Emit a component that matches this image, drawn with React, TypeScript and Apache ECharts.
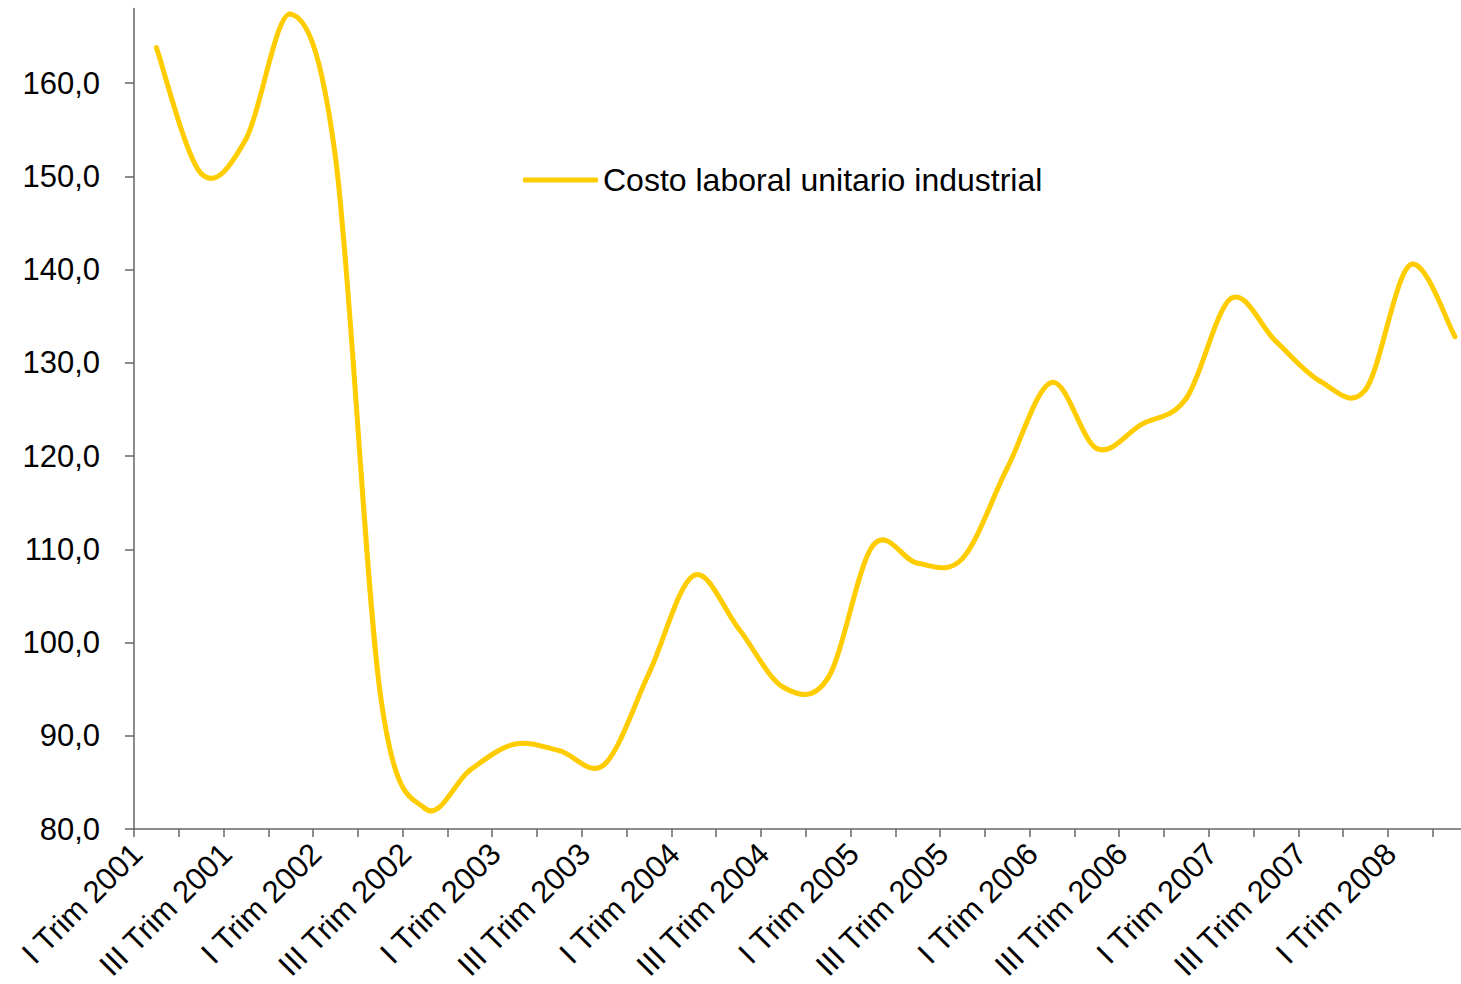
import React, { useEffect, useRef } from "react";
import * as echarts from "echarts";

// Quarterly index of industrial unit labour cost, I Trim 2001 – II Trim 2008
const quarters: string[] = [
  "I Trim 2001", "II Trim 2001", "III Trim 2001", "IV Trim 2001",
  "I Trim 2002", "II Trim 2002", "III Trim 2002", "IV Trim 2002",
  "I Trim 2003", "II Trim 2003", "III Trim 2003", "IV Trim 2003",
  "I Trim 2004", "II Trim 2004", "III Trim 2004", "IV Trim 2004",
  "I Trim 2005", "II Trim 2005", "III Trim 2005", "IV Trim 2005",
  "I Trim 2006", "II Trim 2006", "III Trim 2006", "IV Trim 2006",
  "I Trim 2007", "II Trim 2007", "III Trim 2007", "IV Trim 2007",
  "I Trim 2008", "II Trim 2008",
];

const costoLaboral: number[] = [
  163.8, 150.3, 154.0, 167.4,
  152.0, 94.5, 82.2, 86.3,
  89.1, 88.4, 86.9, 96.7,
  107.2, 101.5, 95.2, 96.2,
  110.4, 108.5, 109.0, 118.7,
  127.9, 120.8, 123.4, 126.2,
  136.9, 132.3, 128.0, 127.1,
  140.5, 132.8,
];

const yTicks: number[] = [80, 90, 100, 110, 120, 130, 140, 150, 160];

const seriesName = "Costo laboral unitario industrial";
const FONT = "'Liberation Sans', Arial, Helvetica, sans-serif";
const LINE_COLOR = "#FFCC00";
const AXIS_COLOR = "#666666";

// Each data item draws the spline segment from its point to the next one
// (uniform Catmull-Rom tangents, written as a cubic Bezier).
function renderSegment(params: any, api: any) {
  const i: number = params.dataIndex;
  const n = costoLaboral.length;
  if (i >= n - 1) return null;
  const pt = (k: number) => {
    const j = Math.max(0, Math.min(n - 1, k));
    return api.coord([j, costoLaboral[j]]);
  };
  const p0 = pt(i - 1);
  const p1 = pt(i);
  const p2 = pt(i + 1);
  const p3 = pt(i + 2);
  const c1 = [p1[0] + (p2[0] - p0[0]) / 6, p1[1] + (p2[1] - p0[1]) / 6];
  const c2 = [p2[0] - (p3[0] - p1[0]) / 6, p2[1] - (p3[1] - p1[1]) / 6];
  return {
    type: "bezierCurve",
    shape: {
      x1: p1[0], y1: p1[1],
      cpx1: c1[0], cpy1: c1[1],
      cpx2: c2[0], cpy2: c2[1],
      x2: p2[0], y2: p2[1],
    },
    style: { stroke: LINE_COLOR, lineWidth: 5, fill: null, lineCap: "round", lineJoin: "round" },
  };
}

export default function App() {
  const ref = useRef<HTMLDivElement>(null);

  useEffect(() => {
    if (!ref.current) return;
    const chart = echarts.init(ref.current, undefined, { renderer: "svg" });
    chart.setOption({
      animation: false,
      backgroundColor: "#ffffff",
      textStyle: { fontFamily: FONT },
      grid: {
        left: 134,
        top: 8.5,
        width: 1343.4,
        height: 820.5,
        containLabel: false,
        outerBoundsMode: "none",
      },
      legend: {
        show: true,
        left: 523,
        top: 163,
        padding: 0,
        icon: "roundRect",
        itemWidth: 75,
        itemHeight: 5,
        itemStyle: { color: LINE_COLOR },
        textStyle: { fontFamily: FONT, fontSize: 32, color: "#000", lineHeight: 34 },
        data: [seriesName],
      },
      xAxis: {
        type: "category",
        data: quarters,
        boundaryGap: true,
        axisLine: { lineStyle: { color: AXIS_COLOR, width: 1.5 } },
        axisTick: { show: true, interval: 0, length: 8, lineStyle: { color: AXIS_COLOR, width: 1.5 } },
        axisLabel: {
          interval: 1,
          rotate: 45,
          margin: 22,
          padding: [0, 12, 0, 0],
          verticalAlign: "bottom",
          fontFamily: FONT,
          fontSize: 31,
          color: "#000",
        },
        splitLine: { show: false },
      },
      yAxis: {
        type: "value",
        min: 80,
        max: 168,
        interval: 10,
        axisLine: { show: true, lineStyle: { color: AXIS_COLOR, width: 1.5 } },
        axisTick: {
          show: true,
          length: 9,
          customValues: yTicks,
          lineStyle: { color: AXIS_COLOR, width: 1.5 },
        },
        axisLabel: {
          customValues: yTicks,
          margin: 34,
          fontFamily: FONT,
          fontSize: 31,
          color: "#000",
          formatter: (v: number) => v.toFixed(1).replace(".", ","),
        },
        splitLine: { show: false },
      },
      series: [
        {
          name: seriesName,
          type: "custom",
          coordinateSystem: "cartesian2d",
          data: costoLaboral.map((v, i) => [i, v]),
          encode: { x: 0, y: 1 },
          renderItem: renderSegment,
          itemStyle: { color: LINE_COLOR },
          clip: false,
        },
      ],
    });
    return () => chart.dispose();
  }, []);

  return (
    <div
      ref={ref}
      style={{ position: "fixed", left: 0, top: 0, width: 1461, height: 984, overflow: "hidden" }}
    />
  );
}
